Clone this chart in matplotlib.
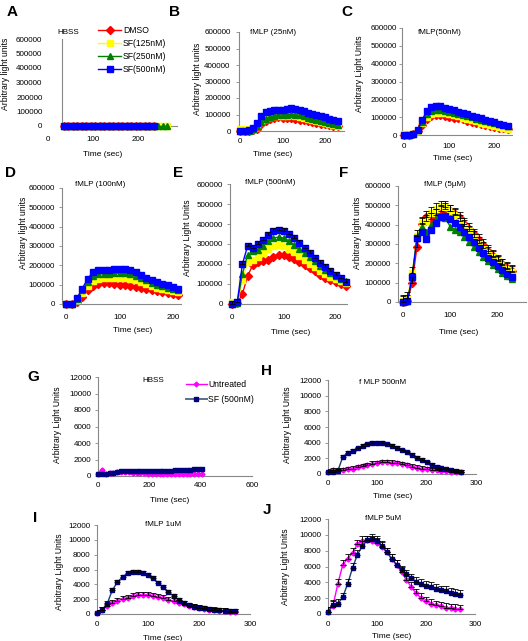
import numpy as np
import matplotlib
matplotlib.use("Agg")
import matplotlib.pyplot as plt
from matplotlib.lines import Line2D

plt.rcParams['font.family'] = ['Liberation Sans', 'DejaVu Sans']

W, H = 528, 641

# ---------------- data: panels A-F (chemiluminescence, 4 treatments) ----------------
series_names = ["DMSO", "SF(125nM)", "SF(250nM)", "SF(500nM)"]

t_A = np.arange(35, 236, 10)
t_A_long = np.arange(35, 266, 10)
dmso_A = [3000, 2000, 2000, 2000, 2000, 2000, 2000, 2000, 2000, 2000, 2000,
          2000, 2000, 2000, 2000, 2000, 2000, 2000, 2000, 2000, 2000]
sf125_A = [2000, 2000, 2000, 2000, 2000, 2000, 2000, 2000, 2000, 2000, 2000, 2000,
           2000, 2000, 2000, 2000, 2000, 2000, 2000, 2000, 3000, 3000, 3000, 3000]
sf250_A = [1000, 1000, 1000, 1000, 1000, 1000, 1000, 1000, 1000, 1000, 1000, 1000,
           1000, 1000, 1000, 1000, 1000, 1000, 1000, 1000, 1000, 1000, 1000, 1000]
sf500_A = [1000, 1000, 1000, 1000, 1000, 1000, 1000, 1000, 1000, 1000, 1000,
           1000, 1000, 1000, 1000, 1000, 1000, 1000, 1000, 1000, 1000]

t_B = np.arange(0, 231, 10)
dmso_B = [0, 0, 0, 5000, 15000, 40000, 62000, 75000, 80000, 82000, 80000, 78000,
          76000, 73000, 69000, 65000, 60000, 55000, 50000, 45000, 40000, 35000, 31000, 28000]
sf125_B = [10000, 10000, 8000, 15000, 30000, 55000, 72000, 82000, 88000, 90000, 92000, 93000,
           94000, 92000, 87000, 80000, 73000, 66000, 59000, 52000, 46000, 40000, 35000, 30000]
sf250_B = [0, 0, 3000, 10000, 30000, 55000, 75000, 87000, 93000, 96000, 98000, 100000,
           102000, 100000, 95000, 88000, 80000, 73000, 66000, 59000, 52000, 46000, 41000, 37000]
sf500_B = [0, 0, 5000, 20000, 50000, 90000, 115000, 122000, 125000, 127000, 130000, 133000,
           138000, 135000, 128000, 120000, 112000, 105000, 98000, 90000, 82000, 75000, 68000, 60000]

t_C = np.arange(0, 231, 10)
dmso_C = [0, 0, 5000, 20000, 55000, 90000, 105000, 110000, 110000, 107000, 103000, 98000,
          93000, 87000, 81000, 75000, 69000, 63000, 57000, 51000, 46000, 41000, 37000, 33000]
sf125_C = [5000, 3000, 5000, 25000, 65000, 100000, 118000, 124000, 124000, 121000, 116000, 110000,
           104000, 97000, 90000, 83000, 76000, 69000, 62000, 56000, 50000, 44000, 39000, 35000]
sf250_C = [0, 0, 8000, 28000, 75000, 115000, 133000, 138000, 138000, 135000, 130000, 125000,
           119000, 113000, 106000, 99000, 92000, 85000, 78000, 72000, 66000, 60000, 55000, 50000]
sf500_C = [0, 0, 8000, 30000, 85000, 135000, 158000, 163000, 160000, 152000, 145000, 138000,
           131000, 124000, 116000, 109000, 101000, 94000, 86000, 79000, 71000, 64000, 57000, 50000]

t_D = np.arange(0, 211, 10)
dmso_D = [0, 0, 10000, 35000, 70000, 95000, 105000, 110000, 108000, 105000, 100000,
          96000, 92000, 87000, 82000, 77000, 72000, 67000, 62000, 57000, 52000, 48000]
sf125_D = [0, 0, 20000, 55000, 95000, 120000, 130000, 133000, 132000, 134000, 135000,
           134000, 130000, 122000, 112000, 102000, 93000, 85000, 78000, 71000, 65000, 60000]
sf250_D = [0, 0, 25000, 70000, 115000, 145000, 155000, 157000, 155000, 158000, 160000,
           160000, 156000, 146000, 134000, 122000, 110000, 100000, 92000, 84000, 77000, 70000]
sf500_D = [0, 0, 30000, 80000, 130000, 165000, 178000, 178000, 175000, 180000, 183000,
           183000, 178000, 165000, 150000, 137000, 124000, 114000, 105000, 96000, 88000, 80000]

t_E = np.arange(0, 221, 10)
dmso_E = [0, 5000, 50000, 140000, 195000, 210000, 215000, 220000, 235000, 245000, 245000, 235000,
          225000, 210000, 195000, 180000, 165000, 145000, 130000, 120000, 108000, 100000, 92000]
sf125_E = [10000, 5000, 120000, 210000, 220000, 235000, 255000, 275000, 290000, 295000, 290000, 275000,
           260000, 240000, 220000, 200000, 185000, 165000, 150000, 135000, 125000, 115000, 105000]
sf250_E = [0, 5000, 150000, 245000, 265000, 270000, 290000, 315000, 330000, 335000, 330000, 315000,
           295000, 275000, 255000, 235000, 215000, 190000, 170000, 155000, 140000, 125000, 115000]
sf500_E = [0, 10000, 200000, 290000, 280000, 300000, 320000, 345000, 365000, 372000, 365000, 350000,
           330000, 305000, 280000, 255000, 230000, 205000, 185000, 165000, 145000, 128000, 112000]
err_E = [0, 0, 0, 15000]

t_F = np.arange(0, 231, 10)
dmso_F = [0, 5000, 100000, 285000, 405000, 440000, 430000, 450000, 470000, 480000, 470000, 455000,
          435000, 405000, 380000, 350000, 320000, 295000, 265000, 240000, 215000, 195000, 175000, 160000]
sf125_F = [5000, 20000, 150000, 340000, 410000, 420000, 460000, 480000, 495000, 490000, 470000, 450000,
           420000, 395000, 365000, 335000, 305000, 280000, 255000, 235000, 210000, 190000, 170000, 155000]
sf250_F = [0, 5000, 140000, 330000, 390000, 360000, 400000, 430000, 440000, 435000, 390000, 375000,
           360000, 335000, 310000, 285000, 260000, 235000, 210000, 190000, 170000, 150000, 135000, 120000]
sf500_F = [0, 5000, 130000, 330000, 360000, 325000, 370000, 410000, 440000, 445000, 430000, 410000,
           390000, 360000, 335000, 310000, 280000, 255000, 230000, 205000, 185000, 165000, 145000, 130000]
err_F = [30000, 30000, 0, 0]

# ---------------- data: panels G-J (untreated vs SF 500nM) ----------------
t_G = np.arange(0, 406, 15)
untreated_G = [300, 700, 300, 350, 400, 450, 450, 450, 450, 400, 400, 350, 350, 300,
               300, 300, 300, 300, 300, 250, 250, 250, 250, 250, 200, 200, 200, 200]
sf_G = [200, 300, 300, 350, 400, 500, 550, 600, 600, 600, 600, 600, 600, 600,
        600, 600, 600, 600, 650, 650, 700, 700, 700, 750, 750, 800, 800, 800]

t_HJ = np.arange(0, 271, 10)
untreated_H = [300, 500, 500, 500, 600, 700, 850, 1000, 1150, 1300, 1400, 1500, 1500, 1450,
               1350, 1250, 1100, 950, 800, 700, 600, 500, 450, 400, 350, 300, 250, 200]
sf_H = [200, 300, 400, 2200, 2700, 3000, 3300, 3600, 3800, 3950, 4000, 3950, 3800, 3600,
        3350, 3050, 2750, 2450, 2100, 1800, 1500, 1200, 950, 750, 600, 500, 400, 300]
untreated_I = [200, 500, 1100, 1500, 1800, 2000, 2200, 2400, 2500, 2550, 2500, 2400, 2250, 2100,
               1900, 1700, 1500, 1300, 1100, 950, 800, 700, 600, 500, 450, 400, 300, 250]
sf_I = [200, 600, 1400, 3200, 4300, 5000, 5500, 5700, 5700, 5500, 5200, 4800, 4200, 3600,
        3000, 2400, 1900, 1500, 1200, 1000, 850, 750, 650, 550, 500, 450, 400, 350]
untreated_J = [300, 1000, 3800, 6200, 7000, 7700, 8800, 9200, 9300, 9200, 9000, 8500, 7800, 7000,
               6200, 5300, 4300, 3400, 2600, 2000, 1600, 1300, 1100, 950, 800, 700, 650, 600]
sf_J = [300, 1200, 1300, 2100, 3800, 5800, 7500, 8600, 9300, 9500, 9200, 8600, 7800, 7000,
        6200, 5500, 5000, 4500, 4100, 3800, 3600, 3400, 3200, 3000, 2900, 2700, 2550, 2400]
err_H = [300, 200]
err_I = [400, 300]
err_J = [600, 600]

# ---------------- styles ----------------
colors4 = ['#ff0000', '#ffff00', '#008000', '#0000ff']
markers4 = ['D', 's', '^', 's']
col_untr, col_sf, col_sf_line = '#ff00ff', '#000080', '#1f3f6e'
AXCOL = '#888888'
FS = 5.8

fig = plt.figure(figsize=(W / 100, H / 100), dpi=100)


def add_ax(x0, x1, y0, y1):
    return fig.add_axes([x0 / W, 1 - y1 / H, (x1 - x0) / W, (y1 - y0) / H])


def style(ax, xlim, xticks, ylim, yticks, ypad=2.5):
    ax.set_xlim(*xlim)
    ax.set_ylim(*ylim)
    for s in ['top', 'right']:
        ax.spines[s].set_visible(False)
    for s in ['left', 'bottom']:
        ax.spines[s].set_color(AXCOL)
        ax.spines[s].set_linewidth(0.8)
    ax.set_xticks(xticks)
    ax.set_xticklabels([str(v) for v in xticks])
    ax.set_yticks(yticks)
    ax.set_yticklabels([str(v) for v in yticks])
    ax.tick_params(axis='y', length=2.5, width=0.6, color=AXCOL, pad=ypad, labelsize=FS)
    ax.tick_params(axis='x', length=0, pad=7, labelsize=FS)
    ax.patch.set_alpha(0)


def txt(x, y, s, size=FS, **kw):
    fig.text(x / W, 1 - y / H, s, fontsize=size, ha='center', va='center', **kw)


def plot4(ax, t, ys, ms=3.8, errs=None, ts=None):
    for i, y in enumerate(ys):
        tt = t if ts is None else ts[i]
        ax.plot(tt, y, color=colors4[i], marker=markers4[i], ms=ms, lw=1.0,
                mec=colors4[i], clip_on=False, zorder=2 + i)
    if errs is not None:
        for i, y in enumerate(ys):
            if errs[i] == 0:
                continue
            tt = t if ts is None else ts[i]
            e = np.full(len(y), errs[i])
            ax.errorbar(tt, y, yerr=[np.zeros(len(y)), e], fmt='none', ecolor='black',
                        elinewidth=0.6, capsize=2, capthick=0.6, zorder=10)


big_ticks = list(range(0, 600001, 100000))

# A
ax = add_ax(48, 177, 39, 126)
style(ax, (0, 287), [0, 100, 200], (0, 600000), big_ticks, ypad=14)
ax.spines['left'].set_position(('data', 31))
ax.spines['bottom'].set_bounds(31, 287)
ax.tick_params(axis='y', length=0)
plot4(ax, None, [dmso_A, sf125_A, sf250_A, sf500_A],
      ts=[t_A, t_A_long, t_A_long, t_A])
handles = [Line2D([], [], color=colors4[i], marker=markers4[i], ms=3.8, lw=1.0)
           for i in range(4)]
fig.legend(handles, series_names, loc='upper left', bbox_to_anchor=(98 / W, 1 - 26 / H),
           frameon=False, fontsize=FS + 0.4, handlelength=2.7, handletextpad=0.2,
           labelspacing=0.45, borderaxespad=0, borderpad=0)

# B
ax = add_ax(239, 344, 32, 131)
style(ax, (-3, 245), [0, 100, 200], (0, 600000), big_ticks, ypad=3.5)
ax.tick_params(axis='x', pad=5)
plot4(ax, t_B, [dmso_B, sf125_B, sf250_B, sf500_B])

# C
ax = add_ax(402, 512, 28, 135)
style(ax, (-5, 240), [0, 100, 200], (0, 600000), big_ticks, ypad=1)
ax.tick_params(axis='x', pad=6)
plot4(ax, t_C, [dmso_C, sf125_C, sf250_C, sf500_C])

# D
ax = add_ax(62, 181, 188, 304)
style(ax, (-8, 215), [0, 100, 200], (0, 600000), big_ticks)
plot4(ax, t_D, [dmso_D, sf125_D, sf250_D, sf500_D])

# E
ax = add_ax(230, 347, 184, 304)
style(ax, (-4, 222), [0, 100, 200], (0, 600000), big_ticks)
plot4(ax, t_E, [dmso_E, sf125_E, sf250_E, sf500_E], errs=err_E)

# F
ax = add_ax(398, 526, 186, 302)
style(ax, (-10, 260), [0, 100, 200], (0, 600000), big_ticks)
plot4(ax, t_F, [dmso_F, sf125_F, sf250_F, sf500_F], errs=err_F)

small_ticks = list(range(0, 12001, 2000))


def plot2(ax, t, untr, sf, errs=None):
    ax.plot(t, untr, color=col_untr, marker='D', ms=2.6, lw=1.0, clip_on=False, zorder=3)
    ax.plot(t, sf, color=col_sf_line, marker='s', ms=3.0, mfc=col_sf, mec=col_sf,
            lw=1.0, clip_on=False, zorder=4)
    if errs is not None:
        for y, e in zip([untr, sf], errs):
            ax.errorbar(t, y, yerr=[np.zeros(len(y)), np.full(len(y), e)], fmt='none',
                        ecolor='black', elinewidth=0.6, capsize=2, capthick=0.6, zorder=10)


# G
ax = add_ax(98, 252, 377, 476)
style(ax, (0, 600), [0, 200, 400, 600], (0, 12000), small_ticks)
ax.tick_params(axis='x', pad=4)
plot2(ax, t_G, untreated_G, sf_G)
h2 = [Line2D([], [], color=col_untr, marker='D', ms=2.4, lw=1.0),
      Line2D([], [], color='#5a7090', marker='s', ms=2.6, mfc=col_sf, mec=col_sf, lw=1.4)]
fig.legend(h2, ["Untreated", "SF (500nM)"], loc='upper left',
           bbox_to_anchor=(186 / W, 1 - 380 / H), frameon=False, fontsize=FS + 0.4,
           handlelength=2.4, handletextpad=0.2, labelspacing=0.75, borderaxespad=0,
           borderpad=0)

# H
ax = add_ax(328, 476, 380, 474)
style(ax, (0, 300), [0, 100, 200, 300], (0, 12000), small_ticks)
ax.tick_params(axis='x', pad=4)
plot2(ax, t_HJ, untreated_H, sf_H, errs=err_H)

# I
ax = add_ax(97, 250, 525, 614)
style(ax, (0, 300), [0, 100, 200, 300], (0, 12000), small_ticks)
ax.tick_params(axis='x', pad=5)
plot2(ax, t_HJ, untreated_I, sf_I, errs=err_I)

# J
ax = add_ax(328, 475, 519, 614)
style(ax, (0, 300), [0, 100, 200, 300], (0, 12000), small_ticks)
ax.tick_params(axis='x', pad=5)
plot2(ax, t_HJ, untreated_J, sf_J, errs=err_J)

# ---------------- text ----------------
for s, x, y in [("A", 12, 12), ("B", 175, 12), ("C", 347, 12), ("D", 10, 173),
                ("E", 178, 173), ("F", 344, 173), ("G", 33, 377), ("H", 266, 371),
                ("I", 35, 518), ("J", 267, 510)]:
    txt(x, y, s, size=11, fontweight='bold')

for s, x, y in [("HBSS", 68, 32), ("fMLP (25nM)", 273, 32), ("fMLP(50nM)", 440, 32),
                ("fMLP (100nM)", 100, 185), ("fMLP (500nM)", 270, 183),
                ("fMLP (5\u00b5M)", 445, 185), ("HBSS", 153, 380),
                ("f MLP 500nM", 383, 382), ("fMLP 1uM", 163, 525), ("fMLP 5uM", 383, 519)]:
    txt(x, y, s)

for x, y in [(103, 155), (273, 155), (453, 159), (133, 331), (291, 332), (459, 332),
             (170, 500), (393, 496), (163, 638), (392, 637)]:
    txt(x, y, "Time (sec)", size=6)

for s, x, y in [("Arbitrary light units", 6, 74), ("Arbitrary light units", 198, 79),
                ("Arbitrary Light Units", 360, 74), ("Arbitrary light units", 23, 233),
                ("Arbitrary Light Units", 188, 238), ("Arbitrary light units", 358, 233),
                ("Arbitrary Light Units", 57, 425), ("Arbitrary Light Units", 287, 425),
                ("Arbitrary Light Units", 60, 572), ("Arbitrary Light Units", 285, 567)]:
    txt(x, y, s, size=6.2, rotation=90)

fig.savefig("out.png", dpi=100)
